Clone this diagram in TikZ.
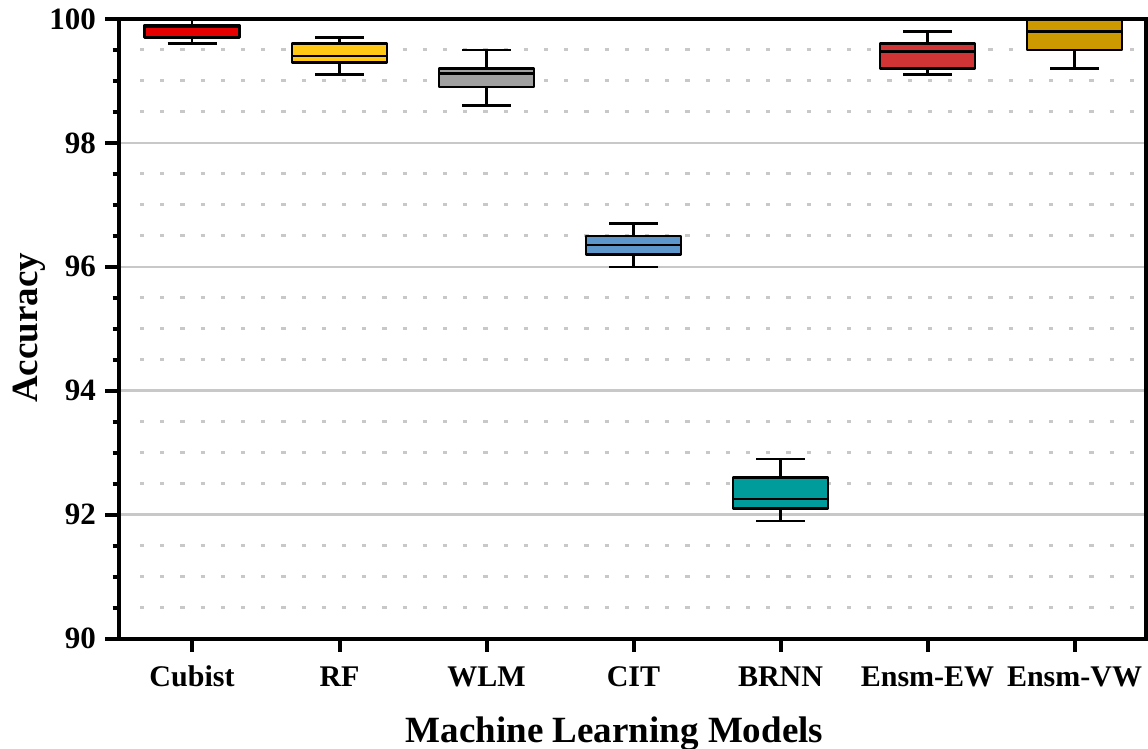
\documentclass[tikz,border=0pt]{standalone}
\usepackage{fontspec}
\setmainfont{Liberation Serif}
\definecolor{cubistred}{RGB}{230,0,0}
\definecolor{rfyellow}{RGB}{255,200,20}
\definecolor{wlmgray}{RGB}{160,160,160}
\definecolor{citblue}{RGB}{92,150,202}
\definecolor{brnnteal}{RGB}{0,155,155}
\definecolor{ewred}{RGB}{208,52,52}
\definecolor{vwgold}{RGB}{204,153,0}
\definecolor{gridgray}{RGB}{200,200,200}
\tikzset{
  axisline/.style={line width=4pt, black},
  majorgrid/.style={line width=2.6pt, gridgray},
  minorgrid/.style={line width=3pt, gridgray, dash pattern=on 4.2pt off 16pt},
  boxline/.style={line width=2.6pt, black, line join=round},
  whisk/.style={line width=2.6pt, black},
  ticklabel/.style={font=\fontsize{31pt}{37pt}\selectfont\bfseries, anchor=east, inner sep=0pt},
  catlabel/.style={font=\fontsize{30pt}{36pt}\selectfont\bfseries, anchor=base, inner sep=0pt},
  axistitle/.style={font=\fontsize{37pt}{44pt}\selectfont\bfseries, anchor=base, inner sep=0pt}
}
\begin{document}
\begin{tikzpicture}[x=1pt, y=1pt, declare function={Y(\v)=(\v-100)*61.95-19;}]
\useasboundingbox (0,0) rectangle (1148,-749);

% dotted minor grid every 0.5
\foreach \v in {90.5,91,91.5,92.5,93,93.5,94.5,95,95.5,96.5,97,97.5,98.5,99,99.5}
  \draw[minorgrid] (140,{Y(\v)}) -- (1144,{Y(\v)});
% solid major grid at even values
\foreach \v in {92,94,96,98}
  \draw[majorgrid] (119,{Y(\v)}) -- (1146,{Y(\v)});

% box plots, clipped to the plot area
\begin{scope}
  \clip (119,-19) rectangle (1146,-638.5);
  \foreach \cx/\lo/\qa/\md/\qb/\hi/\col in {
      192/99.6/99.7/99.88/99.9/100/cubistred,
      339.5/99.1/99.3/99.4/99.6/99.7/rfyellow,
      486.5/98.6/98.9/99.12/99.2/99.5/wlmgray,
      633.5/96.0/96.2/96.35/96.5/96.7/citblue,
      780.5/91.9/92.1/92.25/92.6/92.9/brnnteal,
      927.5/99.1/99.2/99.48/99.6/99.8/ewred,
      1074.5/99.2/99.5/99.8/100.1/100.3/vwgold} {
    \draw[whisk] (\cx,{Y(\hi)}) -- (\cx,{Y(\qb)});
    \draw[whisk] (\cx,{Y(\lo)}) -- (\cx,{Y(\qa)});
    \draw[whisk] ({\cx-24.5},{Y(\hi)}) -- ({\cx+24.5},{Y(\hi)});
    \draw[whisk] ({\cx-24.5},{Y(\lo)}) -- ({\cx+24.5},{Y(\lo)});
    \filldraw[boxline, fill=\col] ({\cx-47.5},{Y(\qa)}) rectangle ({\cx+47.5},{Y(\qb)});
    \draw[boxline] ({\cx-47.5},{Y(\md)}) -- ({\cx+47.5},{Y(\md)});
  }
\end{scope}

% axis frame and ticks
\draw[axisline] (119,-19) rectangle (1146,-638.5);
\foreach \v in {90,92,...,100} {
  \draw[axisline] (105,{Y(\v)}) -- (119,{Y(\v)});
  \node[ticklabel] (yl\v) at (96,{Y(\v)}) {\v};
}
\foreach \v in {90.5,91,91.5,92.5,93,93.5,94.5,95,95.5,96.5,97,97.5,98.5,99,99.5}
  \draw[axisline] (112.5,{Y(\v)}) -- (119,{Y(\v)});
\foreach \cx/\name/\i in {192/Cubist/1, 339.5/RF/2, 486.5/WLM/3, 633.5/CIT/4,
    780.5/BRNN/5, 927.5/Ensm-EW/6, 1074.5/Ensm-VW/7} {
  \draw[axisline] (\cx,-638.5) -- (\cx,-652);
  \node[catlabel] (cat\i) at (\cx,-686) {\name};
}

% axis titles
\node[axistitle] (xtitle) at (614.5,-742) {Machine Learning Models};
\node[axistitle, rotate=90] (ytitle) at (37,-328) {Accuracy};
\end{tikzpicture}
\end{document}
